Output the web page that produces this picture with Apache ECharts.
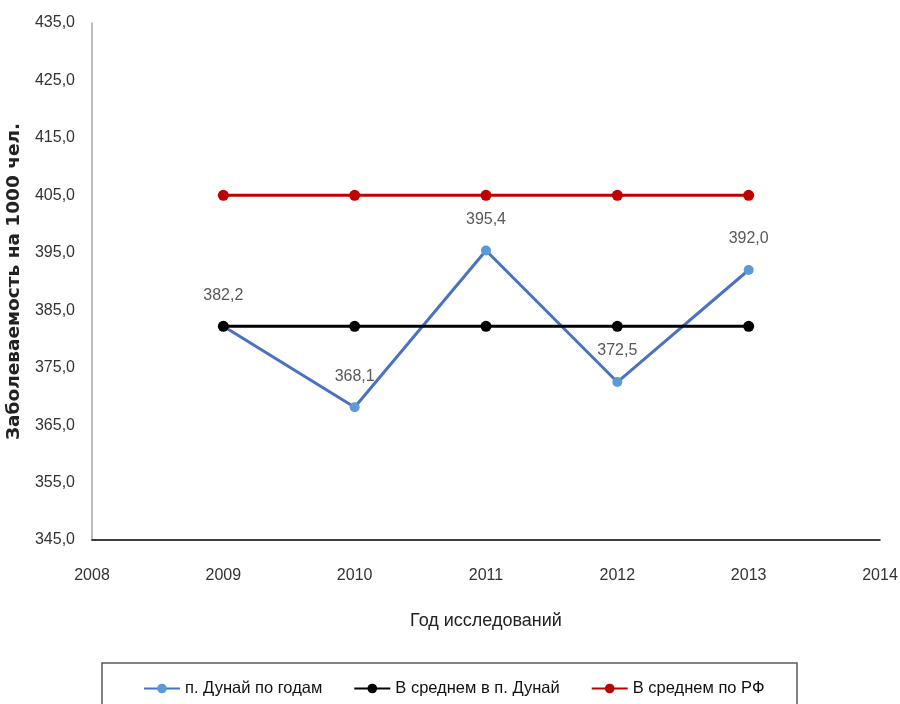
<!DOCTYPE html>
<html>
<head>
<meta charset="utf-8">
<script src="https://cdn.jsdelivr.net/npm/echarts@6/dist/echarts.min.js"></script>
<style>
  html, body { margin: 0; padding: 0; background: #fff; }
  #chart { width: 900px; height: 704px; }
</style>
</head>
<body>
<div id="chart"></div>
<script>
// Годы наблюдений и показатели заболеваемости на 1000 человек
const years = [2009, 2010, 2011, 2012, 2013];
const dunaiByYear = [382.2, 368.1, 395.4, 372.5, 392.0];
const dunaiAverage = [382.2, 382.2, 382.2, 382.2, 382.2];
const russiaAverage = [405.0, 405.0, 405.0, 405.0, 405.0];

const seriesNames = ['п. Дунай по годам', 'В среднем в п. Дунай', 'В среднем по РФ'];
const axisTitleX = 'Год исследований';
const axisTitleY = 'Заболеваемость на 1000 чел.';

const narrow = '"Liberation Sans Narrow", "Arial Narrow", "Liberation Sans", sans-serif';
const comma = v => v.toFixed(1).replace('.', ',');
const pairs = vals => years.map((y, i) => [y, vals[i]]);

const chart = echarts.init(document.getElementById('chart'));
chart.setOption({
  backgroundColor: '#fff',
  animation: false,
  grid: { left: 92, right: 20, top: 23, bottom: 164, outerBoundsMode: 'none' },
  xAxis: {
    type: 'value',
    min: 2008, max: 2014, interval: 1,
    name: axisTitleX,
    nameLocation: 'middle',
    nameGap: 72,
    nameTextStyle: { fontFamily: narrow, fontSize: 18, color: '#222' },
    axisLine: { show: true, lineStyle: { color: '#000', width: 1.5 } },
    axisTick: { show: false },
    splitLine: { show: false },
    axisLabel: { fontFamily: narrow, fontSize: 16, color: '#333', margin: 28, formatter: v => String(v) }
  },
  yAxis: {
    type: 'value',
    min: 345, max: 435, interval: 10,
    name: axisTitleY,
    nameLocation: 'middle',
    nameRotate: 90,
    nameGap: 58,
    nameTextStyle: { fontFamily: '"DejaVu Sans", sans-serif', fontWeight: 'bold', fontSize: 18.5, color: '#222' },
    axisLine: { show: true, lineStyle: { color: '#a6a6a6', width: 1.5 } },
    axisTick: { show: false },
    splitLine: { show: false },
    axisLabel: { fontFamily: narrow, fontSize: 16, color: '#333', margin: 17, formatter: comma }
  },
  legend: {
    left: 138, top: 675,
    itemGap: 31,
    itemWidth: 36, itemHeight: 12,
    textStyle: { fontFamily: narrow, fontSize: 16.5, color: '#111' },
    data: seriesNames
  },
  graphic: [{
    type: 'rect',
    shape: { x: 102, y: 663, width: 695, height: 60 },
    style: { fill: 'none', stroke: '#595959', lineWidth: 1.5 },
    silent: true
  }],
  series: [
    {
      name: seriesNames[0],
      type: 'line',
      data: pairs(dunaiByYear),
      symbol: 'circle', symbolSize: 10,
      lineStyle: { color: '#4a72c0', width: 3 },
      itemStyle: { color: '#5b9bd5' },
      label: {
        show: true, position: 'top', distance: 18,
        fontFamily: narrow, fontSize: 16, color: '#595959',
        formatter: p => comma(p.value[1])
      },
      z: 2
    },
    {
      name: seriesNames[1],
      type: 'line',
      data: pairs(dunaiAverage),
      symbol: 'circle', symbolSize: 11,
      lineStyle: { color: '#000', width: 3 },
      itemStyle: { color: '#000' },
      z: 3
    },
    {
      name: seriesNames[2],
      type: 'line',
      data: pairs(russiaAverage),
      symbol: 'circle', symbolSize: 11,
      lineStyle: { color: '#c00000', width: 3 },
      itemStyle: { color: '#c00000' },
      z: 4
    }
  ]
});
</script>
</body>
</html>
